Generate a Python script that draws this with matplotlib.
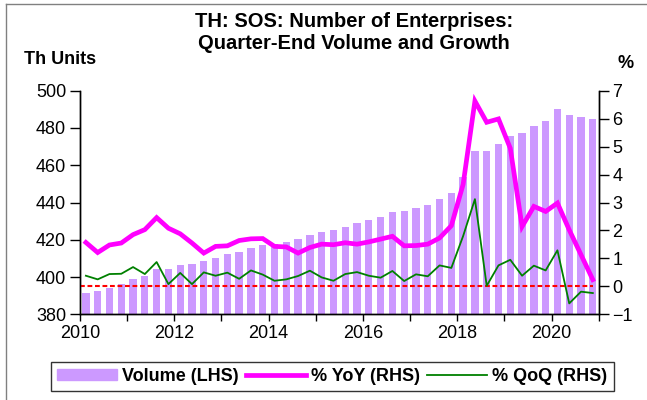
import numpy as np
import matplotlib
matplotlib.use("Agg")
import matplotlib.pyplot as plt
from matplotlib.lines import Line2D

plt.rcParams['font.family'] = ['Liberation Sans', 'DejaVu Sans']

# ---- data (quarterly, 2010Q1 - 2020Q4) ----
years = np.repeat(np.arange(2010, 2021), 4)
quarters = np.tile([1, 2, 3, 4], 11)

volume = [391.5, 392.5, 394.3, 396.1,
          398.9, 400.5, 404.3, 404.5,
          406.2, 406.8, 408.5, 410.1,
          412.1, 413.2, 415.7, 417.1,
          417.8, 419.0, 420.5, 422.8,
          424.4, 425.1, 426.9, 429.2,
          430.8, 432.2, 434.7, 435.4,
          437.3, 438.8, 442.0, 445.0,
          453.7, 467.6, 467.7, 471.3,
          475.6, 477.5, 481.1, 483.8,
          490.0, 486.8, 485.9, 485.0]

yoy = [1.57, 1.21, 1.48, 1.55,
       1.85, 2.03, 2.46, 2.08,
       1.88, 1.55, 1.19, 1.43,
       1.45, 1.64, 1.70, 1.71,
       1.43, 1.41, 1.19, 1.39,
       1.51, 1.49, 1.56, 1.51,
       1.59, 1.69, 1.79, 1.45,
       1.46, 1.51, 1.73, 2.17,
       3.65, 6.63, 5.87, 5.99,
       4.94, 2.14, 2.86, 2.68,
       2.98, 2.02, 1.13, 0.24]

qoq = [0.38, 0.25, 0.44, 0.45,
       0.69, 0.44, 0.87, 0.08,
       0.48, 0.08, 0.50, 0.38,
       0.49, 0.27, 0.57, 0.42,
       0.20, 0.25, 0.37, 0.56,
       0.32, 0.20, 0.44, 0.51,
       0.38, 0.31, 0.55, 0.19,
       0.43, 0.36, 0.75, 0.66,
       1.80, 3.12, 0.02, 0.75,
       0.95, 0.38, 0.74, 0.57,
       1.29, -0.61, -0.19, -0.24]

left_ticks = [380, 400, 420, 440, 460, 480, 500]
right_ticks = [-1, 0, 1, 2, 3, 4, 5, 6, 7]
year_ticks = list(range(2010, 2022))
year_labels = [str(y) if y % 2 == 0 else "" for y in year_ticks]

title = "TH: SOS: Number of Enterprises:\nQuarter-End Volume and Growth"

# ---- figure ----
x = years + (quarters - 0.5) / 4.0

fig = plt.figure(figsize=(6.47, 4.00), dpi=100)
ax = fig.add_axes([80/647, 1-314.3/400, (598.7-80)/647, (314.3-90.7)/400])
ax2 = ax.twinx()

ax.bar(x, volume, width=0.155, color="#CC99FF", zorder=2)
ax.set_ylim(380, 500)
ax.set_xlim(2010, 2021)
ax.set_yticks(left_ticks)
ax.set_xticks(year_ticks)
ax.set_xticklabels(year_labels)

ax2.set_ylim(-1, 7)
ax2.set_yticks(right_ticks)
ax2.hlines(0, xmin=2010, xmax=x[-1], colors="#FF0000", linewidth=1.5,
           linestyles=(0, (2.3, 1.3)), zorder=1)
ax2.plot(x, qoq, color="#008000", linewidth=1.3, zorder=3)
ax2.plot(x, yoy, color="#FF00FF", linewidth=3.4, zorder=4, solid_joinstyle="miter")

for a in (ax, ax2):
    a.spines['top'].set_visible(False)
    for s in ('left', 'right', 'bottom'):
        a.spines[s].set_linewidth(1.0)
        a.spines[s].set_color('black')
    a.tick_params(axis='both', labelsize=13, length=5, width=1.0, colors='black',
                  direction='out', pad=3)
ax.tick_params(axis='y', length=7)
ax2.tick_params(axis='y', length=7)

fig.text(354/647, 1-12/400, title, ha='center', va='top', fontsize=14.5,
         fontweight='bold', linespacing=1.2)
fig.text(24/647, 1-64/400, "Th Units", ha='left', va='baseline', fontsize=13,
         fontweight='bold')
fig.text(626/647, 1-68/400, "%", ha='center', va='baseline', fontsize=13,
         fontweight='bold')

handles = [plt.Rectangle((0, 0), 1, 1, color="#CC99FF"),
           Line2D([0], [0], color="#FF00FF", linewidth=3.4),
           Line2D([0], [0], color="#008000", linewidth=1.3)]
labels = ["Volume (LHS)", "% YoY (RHS)", "% QoQ (RHS)"]
leg = fig.legend(handles, labels, loc='center', bbox_to_anchor=(332.5/647, 1-376.5/400),
                 ncol=3, frameon=True, fancybox=False, edgecolor='black',
                 prop={'weight': 'bold', 'size': 13}, handlelength=3.3,
                 handleheight=0.6, columnspacing=0.4, handletextpad=0.3,
                 borderpad=0.35, borderaxespad=0.0)
leg.get_frame().set_linewidth(1.0)

# outer frame lines (left and top)
fig.add_artist(Line2D([6/647, 6/647], [0, 1-4/400], color='#808080', linewidth=1.0,
                      transform=fig.transFigure))
fig.add_artist(Line2D([6/647, 1], [1-4/400, 1-4/400], color='#808080', linewidth=1.0,
                      transform=fig.transFigure))

fig.savefig("out.png", dpi=100)
